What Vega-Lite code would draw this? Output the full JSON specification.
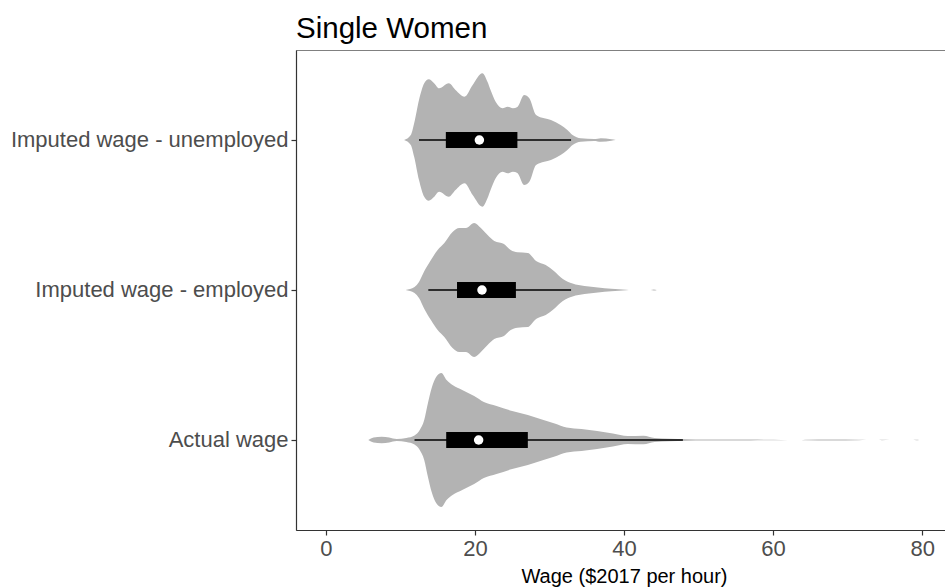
{
  "$schema": "https://vega.github.io/schema/vega-lite/v6.json",
  "width": 656,
  "height": 480,
  "autosize": "none",
  "padding": {"left": 296, "top": 50, "right": 0, "bottom": 57},
  "title": {"text": "Single Women", "anchor": "start", "frame": "group", "fontSize": 29.5, "font": "Liberation Sans", "fontWeight": "normal", "color": "#000000", "baseline": "alphabetic", "offset": 15, "dy": 32},
  "config": {
    "font": "Liberation Sans",
    "view": {"stroke": "#808080", "strokeWidth": 1},
    "axisX": {"grid": false, "domainColor": "#333333", "domainWidth": 1.2, "tickColor": "#333333", "tickSize": 5, "tickWidth": 1.2, "labelFontSize": 22, "labelColor": "#4d4d4d", "labelPadding": 3, "titleFontSize": 20, "titleColor": "#000000", "titleFontWeight": "normal", "titlePadding": 7},
    "axisY": {"grid": false, "domainColor": "#333333", "domainWidth": 1.2, "tickColor": "#333333", "tickSize": 5, "tickWidth": 1.2, "labelFontSize": 22, "labelColor": "#4d4d4d", "labelPadding": 3, "labelLimit": 400}
  },
  "datasets": {
    "violin": [
      {"group": "Imputed wage - unemployed", "wage": 10.5, "density": 0},
      {"group": "Imputed wage - unemployed", "wage": 11.4, "density": 0.005},
      {"group": "Imputed wage - unemployed", "wage": 11.85, "density": 0.0167},
      {"group": "Imputed wage - unemployed", "wage": 12.5, "density": 0.040},
      {"group": "Imputed wage - unemployed", "wage": 13.2, "density": 0.0567},
      {"group": "Imputed wage - unemployed", "wage": 13.8, "density": 0.0607},
      {"group": "Imputed wage - unemployed", "wage": 14.5, "density": 0.057},
      {"group": "Imputed wage - unemployed", "wage": 15.2, "density": 0.0517},
      {"group": "Imputed wage - unemployed", "wage": 16.5, "density": 0.0567},
      {"group": "Imputed wage - unemployed", "wage": 17.4, "density": 0.050},
      {"group": "Imputed wage - unemployed", "wage": 18.6, "density": 0.0433},
      {"group": "Imputed wage - unemployed", "wage": 19.7, "density": 0.055},
      {"group": "Imputed wage - unemployed", "wage": 21.0, "density": 0.0667},
      {"group": "Imputed wage - unemployed", "wage": 21.7, "density": 0.058},
      {"group": "Imputed wage - unemployed", "wage": 22.1, "density": 0.050},
      {"group": "Imputed wage - unemployed", "wage": 22.8, "density": 0.038},
      {"group": "Imputed wage - unemployed", "wage": 23.7, "density": 0.0317},
      {"group": "Imputed wage - unemployed", "wage": 24.4, "density": 0.0333},
      {"group": "Imputed wage - unemployed", "wage": 25.1, "density": 0.0317},
      {"group": "Imputed wage - unemployed", "wage": 25.7, "density": 0.033},
      {"group": "Imputed wage - unemployed", "wage": 26.6, "density": 0.045},
      {"group": "Imputed wage - unemployed", "wage": 27.3, "density": 0.0417},
      {"group": "Imputed wage - unemployed", "wage": 28.2, "density": 0.025},
      {"group": "Imputed wage - unemployed", "wage": 29.3, "density": 0.0217},
      {"group": "Imputed wage - unemployed", "wage": 30.2, "density": 0.020},
      {"group": "Imputed wage - unemployed", "wage": 31.5, "density": 0.015},
      {"group": "Imputed wage - unemployed", "wage": 32.4, "density": 0.010},
      {"group": "Imputed wage - unemployed", "wage": 33.1, "density": 0.005},
      {"group": "Imputed wage - unemployed", "wage": 34.2, "density": 0.0017},
      {"group": "Imputed wage - unemployed", "wage": 36.0, "density": 0.001},
      {"group": "Imputed wage - unemployed", "wage": 36.9, "density": 0.0018},
      {"group": "Imputed wage - unemployed", "wage": 38.3, "density": 0.0007},
      {"group": "Imputed wage - unemployed", "wage": 38.9, "density": 0},
      {"group": "Imputed wage - employed", "wage": 10.7, "density": 0},
      {"group": "Imputed wage - employed", "wage": 11.9, "density": 0.003},
      {"group": "Imputed wage - employed", "wage": 12.5, "density": 0.008},
      {"group": "Imputed wage - employed", "wage": 13.2, "density": 0.0187},
      {"group": "Imputed wage - employed", "wage": 14.1, "density": 0.030},
      {"group": "Imputed wage - employed", "wage": 15.0, "density": 0.040},
      {"group": "Imputed wage - employed", "wage": 15.9, "density": 0.047},
      {"group": "Imputed wage - employed", "wage": 17.0, "density": 0.058},
      {"group": "Imputed wage - employed", "wage": 17.9, "density": 0.062},
      {"group": "Imputed wage - employed", "wage": 18.8, "density": 0.062},
      {"group": "Imputed wage - employed", "wage": 19.9, "density": 0.067},
      {"group": "Imputed wage - employed", "wage": 20.8, "density": 0.062},
      {"group": "Imputed wage - employed", "wage": 21.7, "density": 0.055},
      {"group": "Imputed wage - employed", "wage": 22.6, "density": 0.049},
      {"group": "Imputed wage - employed", "wage": 23.9, "density": 0.046},
      {"group": "Imputed wage - employed", "wage": 24.8, "density": 0.040},
      {"group": "Imputed wage - employed", "wage": 25.7, "density": 0.0377},
      {"group": "Imputed wage - employed", "wage": 27.1, "density": 0.037},
      {"group": "Imputed wage - employed", "wage": 28.2, "density": 0.029},
      {"group": "Imputed wage - employed", "wage": 29.5, "density": 0.025},
      {"group": "Imputed wage - employed", "wage": 30.6, "density": 0.019},
      {"group": "Imputed wage - employed", "wage": 31.8, "density": 0.011},
      {"group": "Imputed wage - employed", "wage": 33.1, "density": 0.0065},
      {"group": "Imputed wage - employed", "wage": 34.7, "density": 0.004},
      {"group": "Imputed wage - employed", "wage": 36.5, "density": 0.0025},
      {"group": "Imputed wage - employed", "wage": 38.3, "density": 0.0013},
      {"group": "Imputed wage - employed", "wage": 40.3, "density": 0.0003},
      {"group": "Imputed wage - employed", "wage": 41.0, "density": 0},
      {"group": "Imputed wage - employed", "wage": 43.6, "density": 0},
      {"group": "Imputed wage - employed", "wage": 44.0, "density": 0.0006},
      {"group": "Imputed wage - employed", "wage": 44.4, "density": 0},
      {"group": "Actual wage", "wage": 5.7, "density": 0},
      {"group": "Actual wage", "wage": 6.4, "density": 0.0025},
      {"group": "Actual wage", "wage": 7.5, "density": 0.0033},
      {"group": "Actual wage", "wage": 8.5, "density": 0.0025},
      {"group": "Actual wage", "wage": 9.5, "density": 0.001},
      {"group": "Actual wage", "wage": 10.8, "density": 0.002},
      {"group": "Actual wage", "wage": 11.9, "density": 0.0045},
      {"group": "Actual wage", "wage": 12.6, "density": 0.010},
      {"group": "Actual wage", "wage": 13.2, "density": 0.020},
      {"group": "Actual wage", "wage": 13.7, "density": 0.037},
      {"group": "Actual wage", "wage": 14.2, "density": 0.052},
      {"group": "Actual wage", "wage": 14.8, "density": 0.063},
      {"group": "Actual wage", "wage": 15.5, "density": 0.067},
      {"group": "Actual wage", "wage": 16.2, "density": 0.060},
      {"group": "Actual wage", "wage": 17.0, "density": 0.055},
      {"group": "Actual wage", "wage": 18.3, "density": 0.050},
      {"group": "Actual wage", "wage": 19.9, "density": 0.044},
      {"group": "Actual wage", "wage": 21.2, "density": 0.038},
      {"group": "Actual wage", "wage": 22.9, "density": 0.034},
      {"group": "Actual wage", "wage": 25.0, "density": 0.029},
      {"group": "Actual wage", "wage": 27.1, "density": 0.025},
      {"group": "Actual wage", "wage": 29.2, "density": 0.020},
      {"group": "Actual wage", "wage": 30.7, "density": 0.0165},
      {"group": "Actual wage", "wage": 32.3, "density": 0.0125},
      {"group": "Actual wage", "wage": 34.3, "density": 0.011},
      {"group": "Actual wage", "wage": 36.4, "density": 0.009},
      {"group": "Actual wage", "wage": 38.5, "density": 0.0065},
      {"group": "Actual wage", "wage": 40.5, "density": 0.004},
      {"group": "Actual wage", "wage": 42.6, "density": 0.0043},
      {"group": "Actual wage", "wage": 44.1, "density": 0.002},
      {"group": "Actual wage", "wage": 46.1, "density": 0.0012},
      {"group": "Actual wage", "wage": 48.3, "density": 0.0008},
      {"group": "Actual wage", "wage": 50.8, "density": 0.0005},
      {"group": "Actual wage", "wage": 54.0, "density": 0.0006},
      {"group": "Actual wage", "wage": 57.0, "density": 0.0004},
      {"group": "Actual wage", "wage": 60.1, "density": 0.0003},
      {"group": "Actual wage", "wage": 62.0, "density": 0},
      {"group": "Actual wage", "wage": 63.8, "density": 0},
      {"group": "Actual wage", "wage": 64.3, "density": 0.0003},
      {"group": "Actual wage", "wage": 67.9, "density": 0.0005},
      {"group": "Actual wage", "wage": 71.5, "density": 0.0002},
      {"group": "Actual wage", "wage": 72.5, "density": 0},
      {"group": "Actual wage", "wage": 74.2, "density": 0},
      {"group": "Actual wage", "wage": 74.6, "density": 0.0002},
      {"group": "Actual wage", "wage": 75.6, "density": 0},
      {"group": "Actual wage", "wage": 78.8, "density": 0},
      {"group": "Actual wage", "wage": 79.2, "density": 0.0002},
      {"group": "Actual wage", "wage": 79.6, "density": 0}
    ],
    "stats": [
      {"group": "Imputed wage - unemployed", "lo": 12.5, "q1": 16.1, "med": 20.6, "q3": 25.7, "hi": 32.9},
      {"group": "Imputed wage - employed", "lo": 13.75, "q1": 17.6, "med": 20.95, "q3": 25.5, "hi": 32.9},
      {"group": "Actual wage", "lo": 11.9, "q1": 16.15, "med": 20.5, "q3": 27.1, "hi": 47.9}
    ]
  },
  "layer": [
    {
      "data": {"name": "violin"},
      "transform": [{"filter": "datum.group === 'Imputed wage - unemployed'"}],
      "mark": {"type": "area", "color": "#b3b3b3", "interpolate": "monotone", "orient": "vertical"},
      "encoding": {
        "x": {"field": "wage", "type": "quantitative", "scale": {"domain": [-4, 84], "nice": false, "zero": false}, "axis": {"values": [0, 20, 40, 60, 80], "title": "Wage ($2017 per hour)"}},
        "y": {"field": "density", "type": "quantitative", "stack": null, "scale": {"domain": [-0.39, 0.09], "nice": false}, "axis": null}
      }
    },
    {
      "data": {"name": "violin"},
      "transform": [{"filter": "datum.group === 'Imputed wage - unemployed'"}],
      "mark": {"type": "area", "color": "#b3b3b3", "interpolate": "monotone", "orient": "vertical"},
      "encoding": {
        "x": {"field": "wage", "type": "quantitative", "title": "Wage ($2017 per hour)"},
        "y": {"field": "density", "type": "quantitative", "stack": null, "scale": {"domain": [-0.09, 0.39], "nice": false, "reverse": true}, "axis": null}
      }
    },
    {
      "data": {"name": "violin"},
      "transform": [{"filter": "datum.group === 'Imputed wage - employed'"}],
      "mark": {"type": "area", "color": "#b3b3b3", "interpolate": "monotone", "orient": "vertical"},
      "encoding": {
        "x": {"field": "wage", "type": "quantitative", "title": "Wage ($2017 per hour)"},
        "y": {"field": "density", "type": "quantitative", "stack": null, "scale": {"domain": [-0.24, 0.24], "nice": false}, "axis": null}
      }
    },
    {
      "data": {"name": "violin"},
      "transform": [{"filter": "datum.group === 'Imputed wage - employed'"}],
      "mark": {"type": "area", "color": "#b3b3b3", "interpolate": "monotone", "orient": "vertical"},
      "encoding": {
        "x": {"field": "wage", "type": "quantitative", "title": "Wage ($2017 per hour)"},
        "y": {"field": "density", "type": "quantitative", "stack": null, "scale": {"domain": [-0.24, 0.24], "nice": false, "reverse": true}, "axis": null}
      }
    },
    {
      "data": {"name": "violin"},
      "transform": [{"filter": "datum.group === 'Actual wage'"}],
      "mark": {"type": "area", "color": "#b3b3b3", "interpolate": "monotone", "orient": "vertical"},
      "encoding": {
        "x": {"field": "wage", "type": "quantitative", "title": "Wage ($2017 per hour)"},
        "y": {"field": "density", "type": "quantitative", "stack": null, "scale": {"domain": [-0.09, 0.39], "nice": false}, "axis": null}
      }
    },
    {
      "data": {"name": "violin"},
      "transform": [{"filter": "datum.group === 'Actual wage'"}],
      "mark": {"type": "area", "color": "#b3b3b3", "interpolate": "monotone", "orient": "vertical"},
      "encoding": {
        "x": {"field": "wage", "type": "quantitative", "title": "Wage ($2017 per hour)"},
        "y": {"field": "density", "type": "quantitative", "stack": null, "scale": {"domain": [-0.39, 0.09], "nice": false, "reverse": true}, "axis": null}
      }
    },
    {
      "data": {"name": "stats"},
      "mark": {"type": "rule", "color": "#000000", "strokeWidth": 1.6},
      "encoding": {
        "x": {"field": "lo", "type": "quantitative", "title": "Wage ($2017 per hour)"},
        "x2": {"field": "hi"},
        "y": {"field": "group", "type": "nominal", "scale": {"type": "band", "paddingInner": 0, "paddingOuter": 0.1, "domain": ["Imputed wage - unemployed", "Imputed wage - employed", "Actual wage"]}, "axis": null}
      }
    },
    {
      "data": {"name": "stats"},
      "mark": {"type": "bar", "color": "#000000", "size": 16},
      "encoding": {
        "x": {"field": "q1", "type": "quantitative", "title": "Wage ($2017 per hour)"},
        "x2": {"field": "q3"},
        "y": {"field": "group", "type": "nominal", "scale": {"type": "band", "paddingInner": 0, "paddingOuter": 0.1, "domain": ["Imputed wage - unemployed", "Imputed wage - employed", "Actual wage"]}, "axis": {"title": null, "orient": "left"}}
      }
    },
    {
      "data": {"name": "stats"},
      "mark": {"type": "point", "filled": true, "color": "#ffffff", "opacity": 1, "size": 90, "shape": "circle"},
      "encoding": {
        "x": {"field": "med", "type": "quantitative", "title": "Wage ($2017 per hour)"},
        "y": {"field": "group", "type": "nominal", "scale": {"type": "band", "paddingInner": 0, "paddingOuter": 0.1, "domain": ["Imputed wage - unemployed", "Imputed wage - employed", "Actual wage"]}, "axis": null}
      }
    }
  ],
  "resolve": {"scale": {"y": "independent"}}
}
